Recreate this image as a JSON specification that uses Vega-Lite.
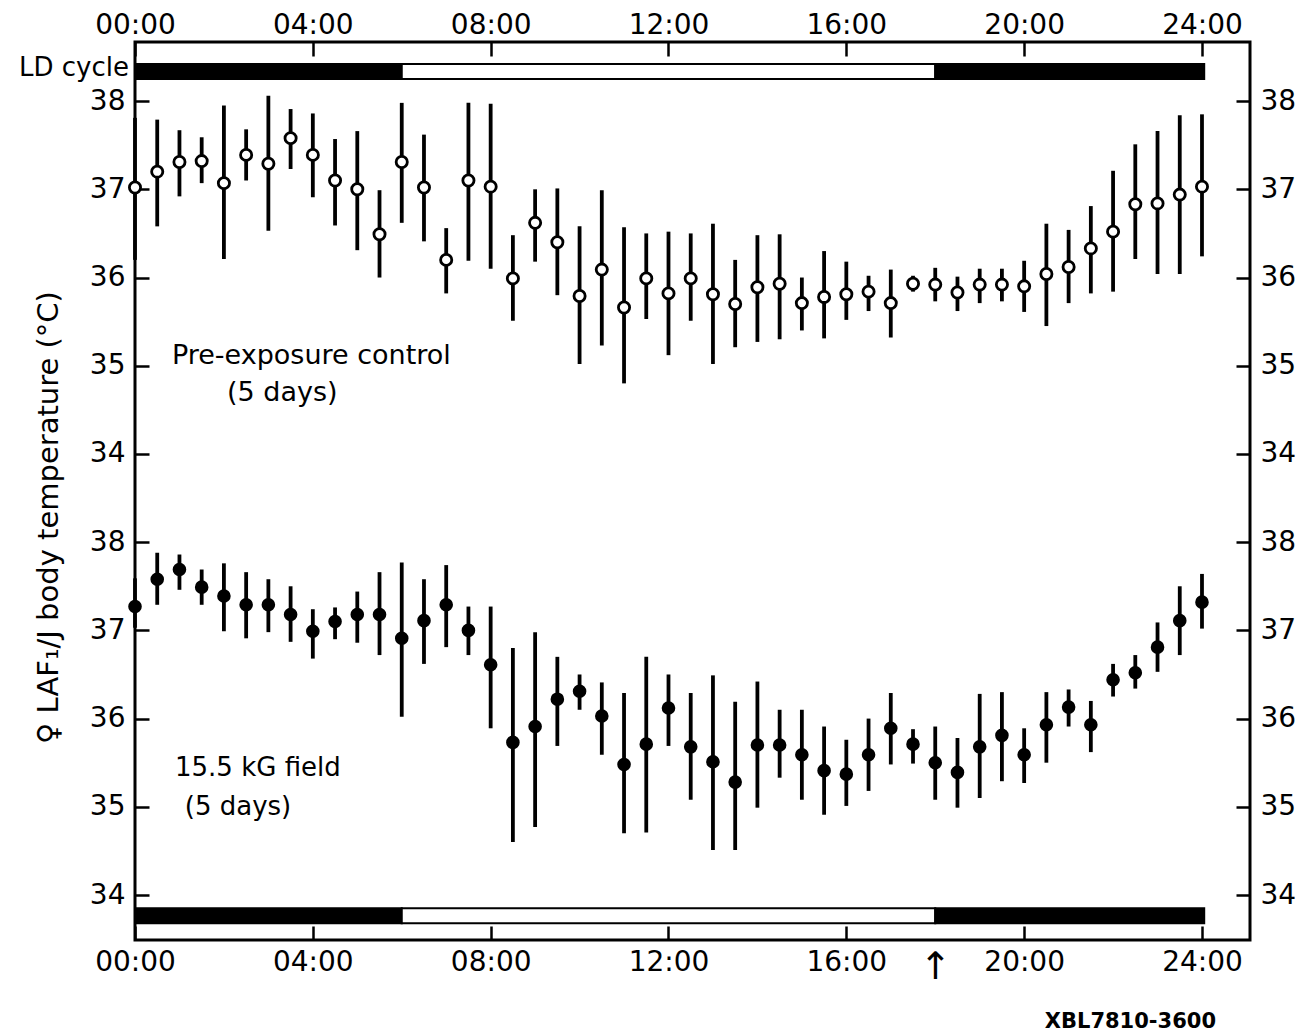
{
  "$schema": "https://vega.github.io/schema/vega-lite/v6.json",
  "width": 1115,
  "height": 898,
  "autosize": "none",
  "padding": {"left": 135, "top": 42, "right": 54, "bottom": 96},
  "background": "white",
  "config": {
    "view": {"stroke": "black", "strokeWidth": 3},
    "font": "DejaVu Sans",
    "axis": {
      "domain": false,
      "grid": false,
      "ticks": true,
      "tickSize": -14,
      "tickWidth": 2.5,
      "tickColor": "black",
      "labelFont": "DejaVu Sans",
      "labelFontSize": 28,
      "labelColor": "black",
      "labelFlush": false,
      "labelOverlap": false,
      "title": null
    }
  },
  "datasets": {
    "upper": [
      {"t": 0, "mean": 37.02, "lo": 36.20, "hi": 37.81},
      {"t": 0.5, "mean": 37.20, "lo": 36.58, "hi": 37.79},
      {"t": 1, "mean": 37.31, "lo": 36.92, "hi": 37.67},
      {"t": 1.5, "mean": 37.32, "lo": 37.07, "hi": 37.59},
      {"t": 2, "mean": 37.07, "lo": 36.21, "hi": 37.95},
      {"t": 2.5, "mean": 37.39, "lo": 37.10, "hi": 37.68},
      {"t": 3, "mean": 37.29, "lo": 36.53, "hi": 38.06},
      {"t": 3.5, "mean": 37.58, "lo": 37.23, "hi": 37.91},
      {"t": 4, "mean": 37.39, "lo": 36.91, "hi": 37.86},
      {"t": 4.5, "mean": 37.10, "lo": 36.59, "hi": 37.57},
      {"t": 5, "mean": 37.00, "lo": 36.31, "hi": 37.66},
      {"t": 5.5, "mean": 36.49, "lo": 36.00, "hi": 36.99},
      {"t": 6, "mean": 37.31, "lo": 36.62, "hi": 37.98},
      {"t": 6.5, "mean": 37.02, "lo": 36.41, "hi": 37.62},
      {"t": 7, "mean": 36.20, "lo": 35.82, "hi": 36.56},
      {"t": 7.5, "mean": 37.10, "lo": 36.19, "hi": 37.98},
      {"t": 8, "mean": 37.03, "lo": 36.10, "hi": 37.97},
      {"t": 8.5, "mean": 35.99, "lo": 35.51, "hi": 36.48},
      {"t": 9, "mean": 36.62, "lo": 36.18, "hi": 37.00},
      {"t": 9.5, "mean": 36.40, "lo": 35.80, "hi": 37.01},
      {"t": 10, "mean": 35.79, "lo": 35.02, "hi": 36.58},
      {"t": 10.5, "mean": 36.09, "lo": 35.23, "hi": 36.99},
      {"t": 11, "mean": 35.66, "lo": 34.80, "hi": 36.57},
      {"t": 11.5, "mean": 35.99, "lo": 35.53, "hi": 36.50},
      {"t": 12, "mean": 35.82, "lo": 35.12, "hi": 36.52},
      {"t": 12.5, "mean": 35.99, "lo": 35.51, "hi": 36.50},
      {"t": 13, "mean": 35.81, "lo": 35.02, "hi": 36.61},
      {"t": 13.5, "mean": 35.70, "lo": 35.21, "hi": 36.20},
      {"t": 14, "mean": 35.89, "lo": 35.27, "hi": 36.48},
      {"t": 14.5, "mean": 35.93, "lo": 35.30, "hi": 36.49},
      {"t": 15, "mean": 35.71, "lo": 35.40, "hi": 36.00},
      {"t": 15.5, "mean": 35.78, "lo": 35.31, "hi": 36.30},
      {"t": 16, "mean": 35.81, "lo": 35.52, "hi": 36.18},
      {"t": 16.5, "mean": 35.84, "lo": 35.62, "hi": 36.02},
      {"t": 17, "mean": 35.71, "lo": 35.32, "hi": 36.09},
      {"t": 17.5, "mean": 35.93, "lo": 35.84, "hi": 36.02},
      {"t": 18, "mean": 35.92, "lo": 35.73, "hi": 36.11},
      {"t": 18.5, "mean": 35.83, "lo": 35.62, "hi": 36.01},
      {"t": 19, "mean": 35.92, "lo": 35.71, "hi": 36.10},
      {"t": 19.5, "mean": 35.92, "lo": 35.73, "hi": 36.10},
      {"t": 20, "mean": 35.90, "lo": 35.61, "hi": 36.19},
      {"t": 20.5, "mean": 36.04, "lo": 35.45, "hi": 36.61},
      {"t": 21, "mean": 36.12, "lo": 35.71, "hi": 36.54},
      {"t": 21.5, "mean": 36.33, "lo": 35.82, "hi": 36.81},
      {"t": 22, "mean": 36.52, "lo": 35.84, "hi": 37.21},
      {"t": 22.5, "mean": 36.83, "lo": 36.21, "hi": 37.51},
      {"t": 23, "mean": 36.84, "lo": 36.04, "hi": 37.66},
      {"t": 23.5, "mean": 36.94, "lo": 36.04, "hi": 37.84},
      {"t": 24, "mean": 37.03, "lo": 36.24, "hi": 37.85}
    ],
    "lower": [
      {"t": 0, "mean": 37.27, "lo": 37.03, "hi": 37.59},
      {"t": 0.5, "mean": 37.58, "lo": 37.29, "hi": 37.88},
      {"t": 1, "mean": 37.69, "lo": 37.46, "hi": 37.86},
      {"t": 1.5, "mean": 37.49, "lo": 37.29, "hi": 37.69},
      {"t": 2, "mean": 37.39, "lo": 36.99, "hi": 37.76},
      {"t": 2.5, "mean": 37.29, "lo": 36.91, "hi": 37.66},
      {"t": 3, "mean": 37.29, "lo": 36.98, "hi": 37.58},
      {"t": 3.5, "mean": 37.18, "lo": 36.87, "hi": 37.50},
      {"t": 4, "mean": 36.99, "lo": 36.68, "hi": 37.24},
      {"t": 4.5, "mean": 37.10, "lo": 36.90, "hi": 37.26},
      {"t": 5, "mean": 37.18, "lo": 36.86, "hi": 37.44},
      {"t": 5.5, "mean": 37.18, "lo": 36.72, "hi": 37.66},
      {"t": 6, "mean": 36.91, "lo": 36.02, "hi": 37.77},
      {"t": 6.5, "mean": 37.11, "lo": 36.62, "hi": 37.58},
      {"t": 7, "mean": 37.29, "lo": 36.81, "hi": 37.74},
      {"t": 7.5, "mean": 37.00, "lo": 36.72, "hi": 37.27},
      {"t": 8, "mean": 36.61, "lo": 35.89, "hi": 37.27},
      {"t": 8.5, "mean": 35.73, "lo": 34.60, "hi": 36.80},
      {"t": 9, "mean": 35.91, "lo": 34.77, "hi": 36.98},
      {"t": 9.5, "mean": 36.22, "lo": 35.69, "hi": 36.70},
      {"t": 10, "mean": 36.31, "lo": 36.10, "hi": 36.50},
      {"t": 10.5, "mean": 36.03, "lo": 35.59, "hi": 36.41},
      {"t": 11, "mean": 35.48, "lo": 34.70, "hi": 36.29},
      {"t": 11.5, "mean": 35.71, "lo": 34.71, "hi": 36.70},
      {"t": 12, "mean": 36.12, "lo": 35.69, "hi": 36.50},
      {"t": 12.5, "mean": 35.68, "lo": 35.08, "hi": 36.29},
      {"t": 13, "mean": 35.51, "lo": 34.51, "hi": 36.49},
      {"t": 13.5, "mean": 35.28, "lo": 34.51, "hi": 36.19},
      {"t": 14, "mean": 35.70, "lo": 34.99, "hi": 36.42},
      {"t": 14.5, "mean": 35.70, "lo": 35.33, "hi": 36.10},
      {"t": 15, "mean": 35.59, "lo": 35.08, "hi": 36.10},
      {"t": 15.5, "mean": 35.41, "lo": 34.91, "hi": 35.91},
      {"t": 16, "mean": 35.37, "lo": 35.01, "hi": 35.76},
      {"t": 16.5, "mean": 35.59, "lo": 35.18, "hi": 36.00},
      {"t": 17, "mean": 35.89, "lo": 35.48, "hi": 36.29},
      {"t": 17.5, "mean": 35.71, "lo": 35.49, "hi": 35.88},
      {"t": 18, "mean": 35.50, "lo": 35.08, "hi": 35.91},
      {"t": 18.5, "mean": 35.39, "lo": 34.99, "hi": 35.78},
      {"t": 19, "mean": 35.68, "lo": 35.10, "hi": 36.28},
      {"t": 19.5, "mean": 35.81, "lo": 35.29, "hi": 36.30},
      {"t": 20, "mean": 35.59, "lo": 35.27, "hi": 35.89},
      {"t": 20.5, "mean": 35.93, "lo": 35.50, "hi": 36.30},
      {"t": 21, "mean": 36.13, "lo": 35.91, "hi": 36.33},
      {"t": 21.5, "mean": 35.93, "lo": 35.62, "hi": 36.20},
      {"t": 22, "mean": 36.44, "lo": 36.25, "hi": 36.62},
      {"t": 22.5, "mean": 36.52, "lo": 36.34, "hi": 36.72},
      {"t": 23, "mean": 36.81, "lo": 36.53, "hi": 37.09},
      {"t": 23.5, "mean": 37.11, "lo": 36.72, "hi": 37.50},
      {"t": 24, "mean": 37.32, "lo": 37.02, "hi": 37.64}
    ],
    "ld": [
      {"start": 0, "end": 6, "phase": "dark"},
      {"start": 6, "end": 18, "phase": "light"},
      {"start": 18, "end": 24.05, "phase": "dark"}
    ]
  },
  "layer": [
    {
      "layer": [
        {
          "data": {"name": "upper"},
          "mark": {"type": "rule", "strokeWidth": 3.8, "color": "black"},
          "encoding": {
            "x": {"field": "t", "type": "quantitative",
              "scale": {"domain": [0, 25.08], "nice": false, "zero": false},
              "axis": {"orient": "top", "values": [0, 4, 8, 12, 16, 20, 24], "labelPadding": 17,
                "labelExpr": "(datum.value < 10 ? '0' : '') + datum.value + ':00'"}},
            "y": {"field": "lo", "type": "quantitative",
              "scale": {"domain": [28.49, 38.67], "nice": false, "zero": false},
              "axis": {"orient": "left", "values": [34, 35, 36, 37, 38], "labelPadding": 24,
                "title": "♀ LAF₁/J body temperature (°C)", "titleFontSize": 29, "titleFontWeight": "normal",
                "titleFont": "DejaVu Sans", "titleColor": "black",
                "titleX": -87, "titleY": 475, "titleAngle": -90, "titleAlign": "center", "titleBaseline": "middle"}},
            "y2": {"field": "hi"}
          }
        },
        {
          "data": {"name": "upper"},
          "mark": {"type": "point", "shape": "circle", "filled": true, "fill": "white", "stroke": "black", "strokeWidth": 2.8, "size": 125, "opacity": 1},
          "encoding": {
            "x": {"field": "t", "type": "quantitative", "axis": null},
            "y": {"field": "mean", "type": "quantitative",
              "axis": {"orient": "right", "values": [34, 35, 36, 37, 38], "labelPadding": 24}}
          }
        },
        {
          "data": {"name": "ld"},
          "mark": {"type": "rect", "stroke": "black", "strokeWidth": 2},
          "encoding": {
            "x": {"field": "start", "type": "quantitative", "axis": null},
            "x2": {"field": "end"},
            "y": {"datum": 38.42, "axis": null},
            "y2": {"datum": 38.25},
            "fill": {"field": "phase", "type": "nominal", "scale": {"domain": ["dark", "light"], "range": ["black", "white"]}, "legend": null}
          }
        },
        {
          "data": {"values": [{}]},
          "mark": {"type": "text", "text": "LD cycle", "align": "right", "baseline": "middle", "dx": -6, "fontSize": 26, "color": "black"},
          "encoding": {"x": {"datum": 0, "axis": null}, "y": {"datum": 38.37, "axis": null}}
        },
        {
          "data": {"values": [{}]},
          "mark": {"type": "text", "text": "Pre-exposure control", "align": "left", "baseline": "middle", "fontSize": 27, "color": "black"},
          "encoding": {"x": {"datum": 0.83, "axis": null}, "y": {"datum": 35.11, "axis": null}}
        },
        {
          "data": {"values": [{}]},
          "mark": {"type": "text", "text": "(5 days)", "align": "left", "baseline": "middle", "fontSize": 27, "color": "black"},
          "encoding": {"x": {"datum": 2.07, "axis": null}, "y": {"datum": 34.69, "axis": null}}
        }
      ],
      "resolve": {"axis": {"y": "independent", "x": "independent"}}
    },
    {
      "layer": [
        {
          "data": {"name": "lower"},
          "mark": {"type": "rule", "strokeWidth": 3.8, "color": "black"},
          "encoding": {
            "x": {"field": "t", "type": "quantitative",
              "scale": {"domain": [0, 25.08], "nice": false, "zero": false},
              "axis": {"orient": "bottom", "values": [0, 4, 8, 12, 16, 18, 20, 24], "labelPadding": 22,
                "labelExpr": "datum.value == 18 ? '↑' : (datum.value < 10 ? '0' : '') + datum.value + ':00'",
                "tickOpacity": {"condition": {"test": "datum.value == 18", "value": 0}, "value": 1},
                "labelFontSize": {"condition": {"test": "datum.value == 18", "value": 38}, "value": 28}}},
            "y": {"field": "lo", "type": "quantitative",
              "scale": {"domain": [33.49, 43.67], "nice": false, "zero": false},
              "axis": {"orient": "left", "values": [34, 35, 36, 37, 38], "labelPadding": 24}},
            "y2": {"field": "hi"}
          }
        },
        {
          "data": {"name": "lower"},
          "mark": {"type": "circle", "size": 185, "color": "black", "opacity": 1},
          "encoding": {
            "x": {"field": "t", "type": "quantitative", "axis": null},
            "y": {"field": "mean", "type": "quantitative",
              "axis": {"orient": "right", "values": [34, 35, 36, 37, 38], "labelPadding": 24}}
          }
        },
        {
          "data": {"name": "ld"},
          "mark": {"type": "rect", "stroke": "black", "strokeWidth": 2},
          "encoding": {
            "x": {"field": "start", "type": "quantitative", "axis": null},
            "x2": {"field": "end"},
            "y": {"datum": 33.85, "axis": null},
            "y2": {"datum": 33.68},
            "fill": {"field": "phase", "type": "nominal", "legend": null}
          }
        },
        {
          "data": {"values": [{}]},
          "mark": {"type": "text", "text": "15.5 kG field", "align": "left", "baseline": "middle", "fontSize": 26, "color": "black"},
          "encoding": {"x": {"datum": 0.9, "axis": null}, "y": {"datum": 35.44, "axis": null}}
        },
        {
          "data": {"values": [{}]},
          "mark": {"type": "text", "text": "(5 days)", "align": "left", "baseline": "middle", "fontSize": 26, "color": "black"},
          "encoding": {"x": {"datum": 1.12, "axis": null}, "y": {"datum": 35.0, "axis": null}}
        },
        {
          "data": {"values": [{}]},
          "mark": {"type": "text", "text": "XBL7810-3600", "align": "center", "baseline": "middle", "fontSize": 21, "fontWeight": "bold", "color": "black"},
          "encoding": {"x": {"datum": 22.39, "axis": null}, "y": {"datum": 32.56, "axis": null}}
        }
      ],
      "resolve": {"axis": {"y": "independent", "x": "independent"}}
    }
  ],
  "resolve": {"scale": {"y": "independent"}, "axis": {"y": "independent", "x": "independent"}}
}
